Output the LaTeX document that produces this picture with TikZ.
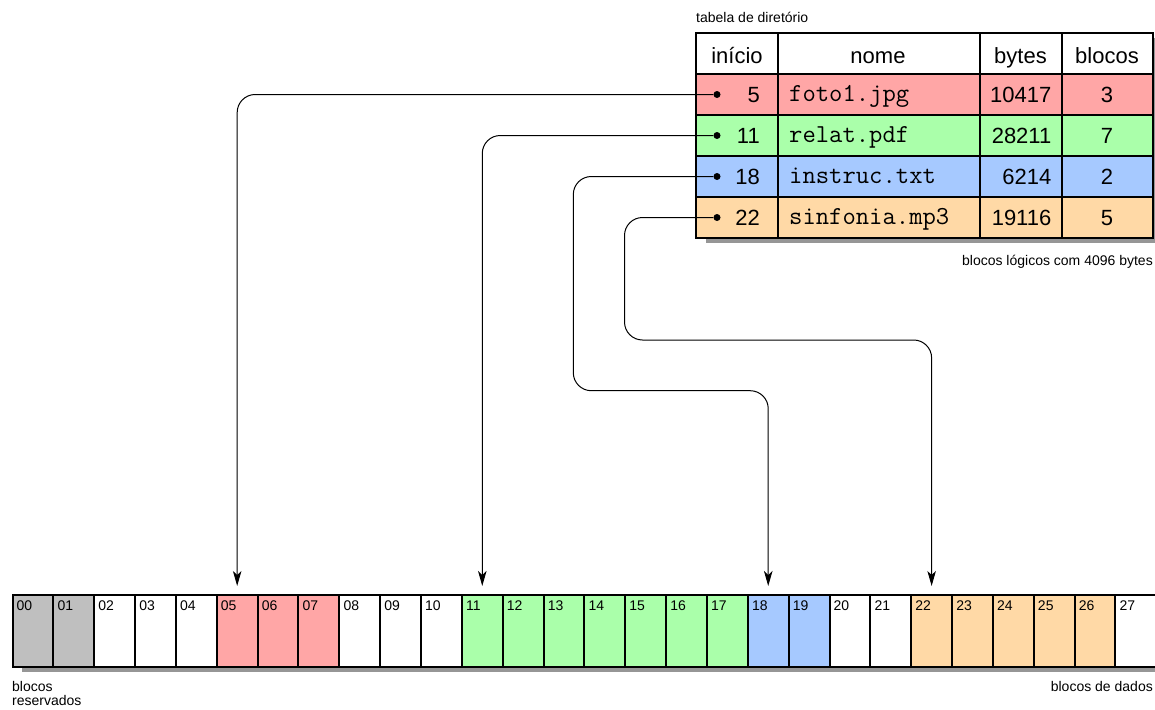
\documentclass[tikz,border=0pt]{standalone}
\usepackage{fontspec}
\setmainfont{Liberation Sans}
\usetikzlibrary{arrows.meta}

\definecolor{arqred}{RGB}{255,166,166}
\definecolor{arqgreen}{RGB}{170,255,170}
\definecolor{arqblue}{RGB}{166,201,255}
\definecolor{arqorange}{RGB}{255,217,166}
\definecolor{arqgray}{RGB}{191,191,191}
\definecolor{arqshadow}{RGB}{150,150,150}

\tikzset{
	cell/.style={draw, line width=2.5pt, minimum height=41pt, inner sep=0pt, outer sep=0pt},
	blk/.style={draw, line width=2pt, minimum width=40.85pt, minimum height=72pt, inner sep=0pt, outer sep=0pt},
	small/.style={font=\fontsize{14}{13.5}\selectfont, inner sep=0pt},
	big/.style={font=\fontsize{22}{26}\selectfont, inner sep=0pt},
	mono/.style={font=\fontsize{25.9}{28}\selectfont\ttfamily, inner sep=0pt},
	dot/.style={circle, fill, inner sep=0pt, minimum size=7pt},
	ptr/.style={->, line width=1pt, rounded corners=18pt, shorten >=9pt},
}

\begin{document}
\begin{tikzpicture}[x=1pt, y=-1pt, >={Stealth[length=15pt, width=8.5pt, inset=4pt]}]
	\useasboundingbox (0,0) rectangle (1155,709);
	% directory table
	\fill[arqshadow] (706,38) rectangle (1165,243);
	\node[cell, fill=white, minimum width=82pt] (h-ini) at (737,53.5) {};
	\node[cell, fill=white, minimum width=202pt] (h-nome) at (879,53.5) {};
	\node[cell, fill=white, minimum width=82pt] (h-bytes) at (1021,53.5) {};
	\node[cell, fill=white, minimum width=91pt] (h-blocos) at (1107.5,53.5) {};
	\node[big, anchor=base] (t-ini) at (737,63.3) {início};
	\node[big, anchor=base] (t-nome) at (878,63.3) {nome};
	\node[big, anchor=base] (t-bytes) at (1020.5,63.3) {bytes};
	\node[big, anchor=base] (t-blocos) at (1107,63.3) {blocos};
	\foreach \r/\ini/\nome/\bytes/\blocos/\cor in {1/5/foto1.jpg/10417/3/arqred, 2/11/relat.pdf/28211/7/arqgreen, 3/18/instruc.txt/6214/2/arqblue, 4/22/sinfonia.mp3/19116/5/arqorange} {
		\pgfmathsetmacro\yc{53.5+41*\r}
		\node[cell, fill=\cor, minimum width=82pt] (ini\r) at (737,\yc) {};
		\node[cell, fill=\cor, minimum width=202pt] (nome\r) at (879,\yc) {};
		\node[cell, fill=\cor, minimum width=82pt] (bytes\r) at (1021,\yc) {};
		\node[cell, fill=\cor, minimum width=91pt] (blocos\r) at (1107.5,\yc) {};
		\node[dot] (d\r) at (717,\yc) {};
		\node[big, anchor=base east] (v-ini\r) at (760,\yc+7.8) {\ini};
		\node[mono, anchor=base west] (v-nome\r) at (789,\yc+7) {\nome};
		\node[big, anchor=base east] (v-bytes\r) at (1051.5,\yc+7.8) {\bytes};
		\node[big, anchor=base] (v-blocos\r) at (1107,\yc+7.8) {\blocos};
	}
	\node[small, anchor=base west] (titulo) at (696,23) {tabela de diretório};
	\node[small, anchor=base east] (nota) at (1153,265) {blocos lógicos com 4096 bytes};
	% disk blocks
	\fill[arqshadow] (22,600) rectangle (1170,672);
	\foreach \k/\cor in {0/arqgray, 1/arqgray, 2/white, 3/white, 4/white, 5/arqred, 6/arqred, 7/arqred, 8/white, 9/white, 10/white, 11/arqgreen, 12/arqgreen, 13/arqgreen, 14/arqgreen, 15/arqgreen, 16/arqgreen, 17/arqgreen, 18/arqblue, 19/arqblue, 20/white, 21/white, 22/arqorange, 23/arqorange, 24/arqorange, 25/arqorange, 26/arqorange, 27/white} {
		\node[blk, fill=\cor] (b\k) at ({12.5+40.85*(\k+0.5)},631) {};
		\node[small, anchor=north west] (n\k) at ([shift={(4,5.5)}]b\k.north west) {\ifnum\k<10 0\fi\k};
	}
	\node[small, anchor=north west, align=left] (reserv) at (12,681.5) {blocos\\reservados};
	\node[small, anchor=base east] (dados) at (1153,691.7) {blocos de dados};
	% pointers
	\coordinate (dobra3) at (573.3,390.7);
	\coordinate (dobra4) at (624.5,340);
	\draw[ptr] (d1) -| (b5.north);
	\draw[ptr] (d2) -| (b11.north);
	\draw[ptr] (d3) -| (dobra3) -| (b18.north);
	\draw[ptr] (d4) -| (dobra4) -| (b22.north);
\end{tikzpicture}
\end{document}
